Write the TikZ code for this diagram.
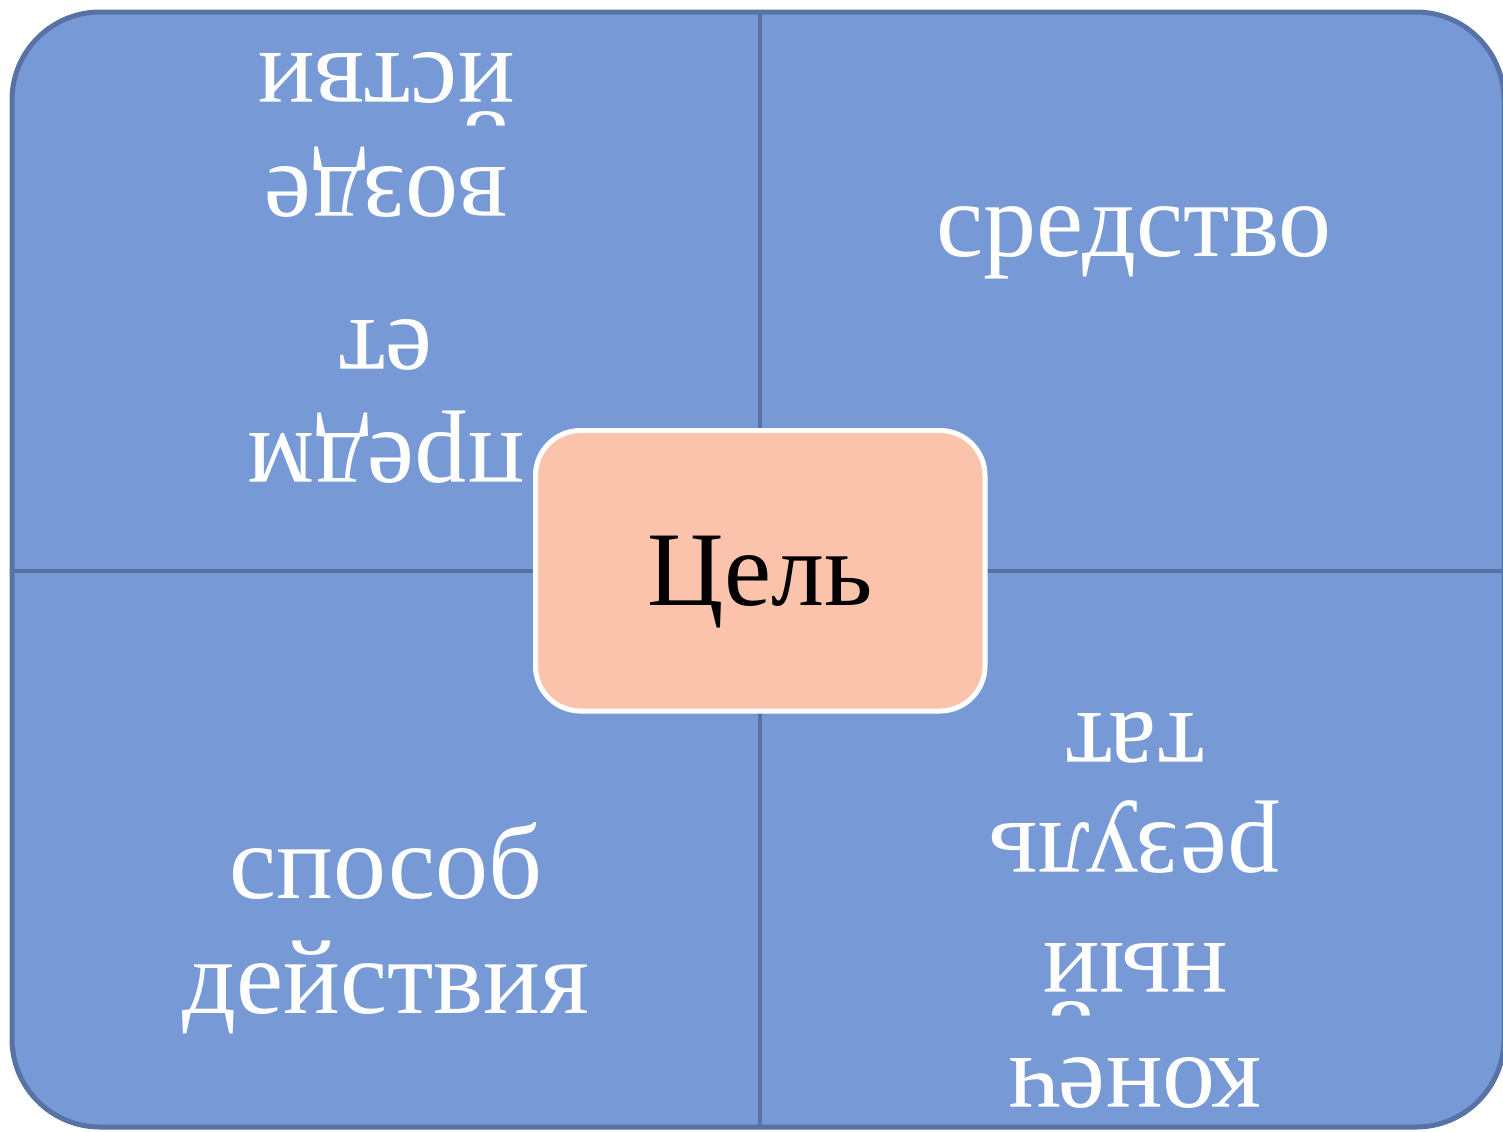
\documentclass[tikz,border=0pt]{standalone}
\usepackage{fontspec}
\setmainfont{Liberation Serif}
\definecolor{cellblue}{RGB}{119,153,214}
\definecolor{edgeblue}{RGB}{88,114,166}
\definecolor{peach}{RGB}{251,195,171}
\begin{document}
\begin{tikzpicture}[x=0.5pt,y=-0.5pt,
  bigtext/.style={font=\fontsize{53}{60}\selectfont, text=white, inner sep=0pt, anchor=base},
  flipped/.style={bigtext, rotate=180}]
\useasboundingbox (0,0) rectangle (1503,1131);
% outer frame
\node[draw=edgeblue, fill=cellblue, line width=2.5pt, rounded corners=44pt,
      minimum width=746pt, minimum height=557.5pt, inner sep=0pt] (frame) at (758,569.5) {};
% dividers
\draw[edgeblue, line width=2pt] (760,12) -- (760,1127);
\draw[edgeblue, line width=2pt] (12,571) -- (1504,571);
% centre
\node[draw=white, fill=peach, line width=2.5pt, rounded corners=22.5pt,
      minimum width=224.75pt, minimum height=140.25pt, inner sep=0pt,
      text height=40pt, text depth=5.75pt, font=\fontsize{53}{60}\selectfont] (goal) at (760.25,570.75) {Цель};
% top right
\node[bigtext] (tr) at (1134,256) {средство};
% bottom left
\node[bigtext] (bl1) at (386,898) {способ};
\node[bigtext] (bl2) at (386,1013) {действия};
% top left (upside down)
\node[flipped] (tl1) at (386,433) {предм};
\node[flipped] (tl2) at (386,320) {ет};
\node[flipped] (tl3) at (386,167) {возде};
\node[flipped] (tl4) at (386,53) {йстви};
% bottom right (upside down)
\node[flipped] (br1) at (1135,1058) {конеч};
\node[flipped] (br2) at (1135,943) {ный};
\node[flipped] (br3) at (1135,823) {резуль};
\node[flipped] (br4) at (1135,713) {тат};
\end{tikzpicture}
\end{document}
